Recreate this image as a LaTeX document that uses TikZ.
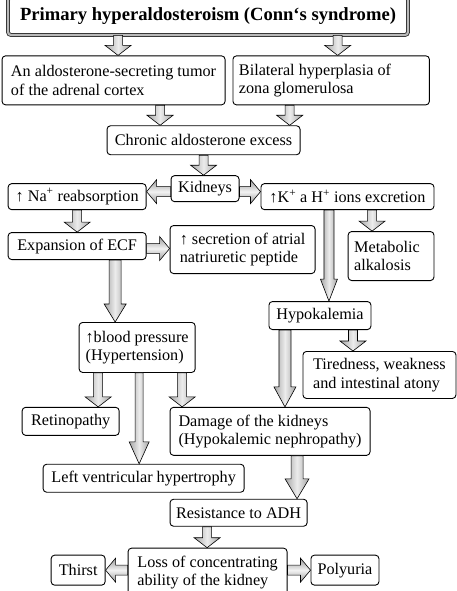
\documentclass[tikz,border=0pt]{standalone}
\usepackage{fontspec}
\setmainfont{Liberation Serif}
\usetikzlibrary{positioning,calc}

\tikzset{
	body/.style={font=\fontsize{16.2}{18.6}\selectfont},
	box/.style={body, draw, line width=0.9pt, rounded corners=3.5pt, fill=white, align=left, inner xsep=6pt, inner ysep=2pt},
	titlebox/.style={draw=black!85, double=gray!55, double distance=2.2pt, line width=0.8pt, rounded corners=3pt, fill=white,
		minimum width=400pt, minimum height=38pt, font=\bfseries\fontsize{18.6}{22}\selectfont},
	fat/.style args={#1/#2/#3}{draw, line width=0.6pt, to path={
		let \p1=(\tikztostart), \p2=(\tikztotarget), \p3=($(\p2)!#3!(\p1)$) in
		($(\p1)!#1!90:(\p2)$) -- ($(\p3)!#1!-90:(\p1)$) -- ($(\p3)!#2!-90:(\p1)$) -- (\p2)
		-- ($(\p3)!#2!90:(\p1)$) -- ($(\p3)!#1!90:(\p1)$) -- ($(\p1)!#1!-90:(\p2)$) -- cycle}},
	vfat/.style={fat=#1, left color=gray!70, right color=gray!70, middle color=gray!15},
	hfat/.style={fat=#1, top color=gray!80, bottom color=gray!80, middle color=gray!10},
}
\newcommand{\up}{\textbf{↑}}

\begin{document}
\begin{tikzpicture}
	\useasboundingbox (0,0) rectangle (457pt,-591pt);
	\clip (0,0) rectangle (457pt,-591pt);

	\node[titlebox] (title) at (208pt,-16pt) {Primary hyperaldosteroism (Conn‘s syndrome)};

	\node[box, minimum width=223pt, minimum height=49pt, below=20pt of title.south west, anchor=north west, xshift=-6pt] (tumor)
		{An aldosterone-secreting tumor\\of the adrenal cortex};
	\node[box, minimum width=173pt, minimum height=49pt, right=7pt of tumor.north east, anchor=north west] (hyper)
		{Bilateral hyperplasia of\phantom{xxxx}\\zona glomerulosa};
	\node[box, minimum width=193pt, minimum height=29pt, below=20pt of tumor.south, xshift=90pt] (excess)
		{Chronic aldosterone excess};
	\node[box, minimum width=68pt, minimum height=26pt, below=20pt of excess, xshift=1.5pt] (kidneys) {Kidneys};
	\node[box, inner xsep=2.5pt, minimum width=138pt, minimum height=26pt, left=24pt of kidneys, yshift=-8pt] (na)
		{\up{} Na\textsuperscript{+} reabsorption};
	\node[box, inner xsep=3pt, minimum width=173pt, minimum height=26pt, right=21pt of kidneys, yshift=-8pt] (kh)
		{\up{}K\textsuperscript{+} a H\textsuperscript{+} ions excretion};

	\node[box, minimum width=138pt, minimum height=27pt, below=22pt of na] (ecf) {Expansion of ECF};
	\node[box, minimum width=145pt, minimum height=48pt, right=23pt of ecf, yshift=-3.5pt] (anp)
		{\up{} secretion of atrial\\natriuretic peptide};
	\node[box, minimum width=82pt, minimum height=49pt, below=21pt of kh.south east, anchor=north east] (alkal)
		{Metabolic\phantom{x}\\alkalosis};
	\node[box, minimum width=102pt, minimum height=28pt, below=91pt of kh.south west, anchor=north west, xshift=8pt] (hypok) {Hypokalemia};
	\node[box, minimum width=153pt, minimum height=47pt, below=21pt of hypok.south west, anchor=north west, xshift=34pt] (tired)
		{Tiredness, weakness\\and intestinal atony};
	\node[box, inner xsep=4pt, minimum width=116pt, minimum height=50pt, below=62pt of ecf.south west, anchor=north west, xshift=71pt] (bp)
		{\up{}blood pressure\\(Hypertension)};

	\node[box, minimum width=97pt, minimum height=28pt, below=34pt of bp.south west, anchor=north west, xshift=-57pt] (retino) {Retinopathy};
	\node[box, minimum width=200pt, minimum height=48pt, right=50pt of retino.north east, anchor=north west] (damage)
		{Damage of the kidneys\phantom{xx}\\(Hypokalemic nephropathy)};
	\node[box, minimum width=201pt, minimum height=28pt, below=28pt of retino.south west, anchor=north west, xshift=21pt] (lvh)
		{Left ventricular hypertrophy};
	\node[box, minimum width=137pt, minimum height=27pt, below=43pt of damage.south west, anchor=north west] (adh) {Resistance to ADH};
	\node[box, minimum width=159pt, minimum height=49pt, below=21pt of adh.south west, anchor=north west, xshift=-42pt] (loss)
		{Loss of concentrating\\ability of the kidney};
	\node[box, minimum width=54pt, minimum height=30pt, left=22pt of loss, yshift=2.5pt] (thirst) {Thirst};
	\node[box, minimum width=68pt, minimum height=30pt, right=23pt of loss, yshift=2.5pt] (polyuria) {Polyuria};

	% block arrows
	\draw[vfat=4.5pt/13pt/10pt] ([xshift=4.5pt]tumor.north |- title.south) to ([xshift=4.5pt]tumor.north);
	\draw[vfat=4.5pt/13pt/10pt] ([xshift=6.5pt]hyper.north |- title.south) to ([xshift=6.5pt]hyper.north);
	\draw[vfat=4.5pt/13pt/10pt] ([xshift=46.5pt]tumor.south) to ([xshift=46.5pt]tumor.south |- excess.north);
	\draw[vfat=4.5pt/13pt/10pt] ([xshift=-41.5pt]hyper.south) to ([xshift=-41.5pt]hyper.south |- excess.north);
	\draw[vfat=4.5pt/13pt/10pt] (excess.south) to (excess.south |- kidneys.north);
	\draw[hfat=5pt/12pt/10pt] ([yshift=-3pt]kidneys.west) to ([yshift=-3pt]kidneys.west -| na.east);
	\draw[hfat=5pt/12pt/10pt] ([yshift=-3pt]kidneys.east) to ([yshift=-3pt]kidneys.east -| kh.west);
	\draw[vfat=4.5pt/13pt/10pt] (na.south) to (ecf.north);
	\draw[hfat=5pt/12pt/10pt] ([yshift=-2.5pt]ecf.east) to ([yshift=-2.5pt]ecf.east -| anp.west);
	\draw[vfat=4.5pt/13pt/10pt] ([xshift=-19pt]alkal.north |- kh.south) to ([xshift=-19pt]alkal.north);
	\draw[vfat=5pt/8.5pt/22pt] ([xshift=9pt]hypok.north |- kh.south) to ([xshift=9pt]hypok.north);
	\draw[vfat=6pt/11pt/18pt] ([xshift=-22pt]bp.north |- ecf.south) to ([xshift=-22pt]bp.north);
	\draw[vfat=4.5pt/13pt/10pt] ([xshift=33pt]hypok.south) to ([xshift=33pt]hypok.south |- tired.north);
	\draw[vfat=6pt/11pt/20pt] ([xshift=-35pt]hypok.south) to ([xshift=-35pt]hypok.south |- damage.north);
	\draw[vfat=4.5pt/13pt/10pt] ([xshift=-39pt]bp.south) to ([xshift=-39pt]bp.south |- retino.north);
	\draw[vfat=4pt/10pt/22pt] ([xshift=2pt]bp.south) to ([xshift=2pt]bp.south |- lvh.north);
	\draw[vfat=4.5pt/13pt/10pt] ([xshift=45pt]bp.south) to ([xshift=45pt]bp.south |- damage.north);
	\draw[vfat=6pt/12pt/20pt] ([xshift=27pt]damage.south) to ([xshift=27pt]damage.south |- adh.north);
	\draw[vfat=4.5pt/13pt/10pt] ([xshift=-31.5pt]adh.south) to ([xshift=-31.5pt]adh.south |- loss.north);
	\draw[hfat=5pt/12pt/10pt] ([yshift=2.5pt]loss.west) to ([yshift=2.5pt]loss.west -| thirst.east);
	\draw[hfat=5pt/12pt/10pt] ([yshift=2.5pt]loss.east) to ([yshift=2.5pt]loss.east -| polyuria.west);
\end{tikzpicture}
\end{document}
